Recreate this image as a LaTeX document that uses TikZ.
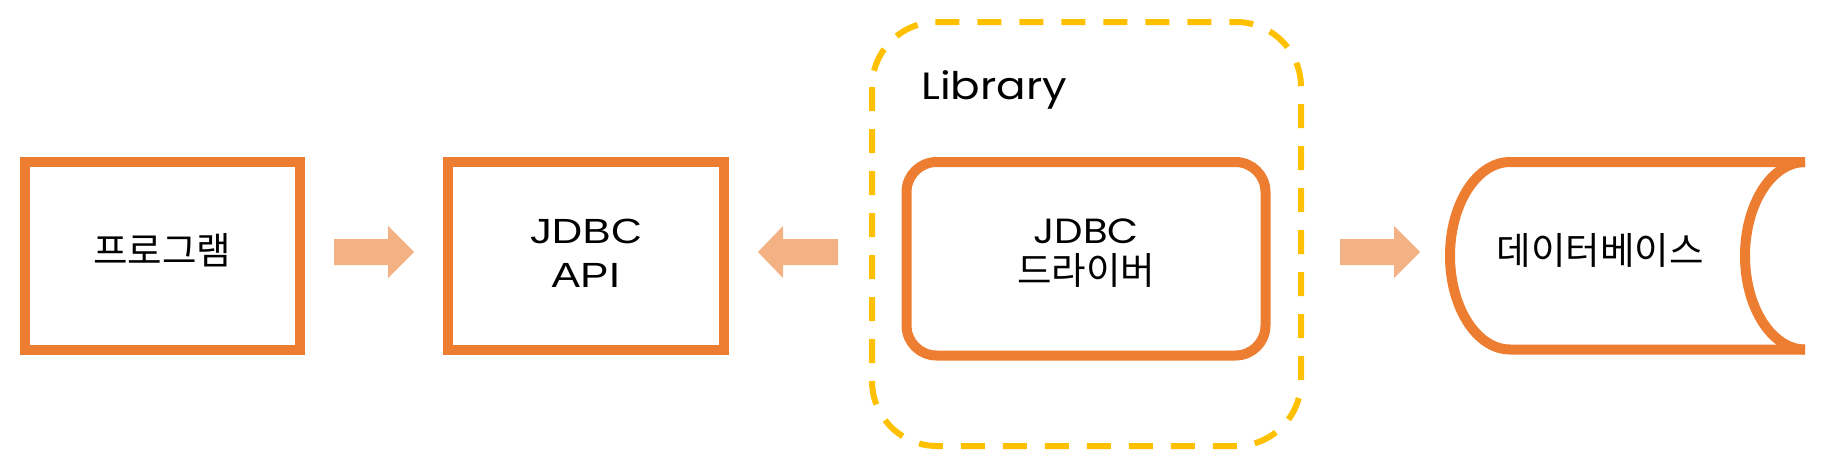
\documentclass[tikz,border=0pt]{standalone}
\usepackage{fontspec}
\newfontfamily\krfont{Noto Sans CJK KR}
\newfontfamily\geofont[FakeStretch=1.15]{Poppins}
\newfontfamily\arfont[FakeStretch=1.22]{Liberation Sans}
\definecolor{boxorange}{HTML}{ED7D31}
\definecolor{arroworange}{HTML}{F4B183}
\definecolor{libyellow}{HTML}{FFC000}
\begin{document}
\begin{tikzpicture}[x=1pt,y=-1pt,
  plainbox/.style={draw=boxorange,line width=10pt,rectangle,inner sep=0pt,fill=white},
  blockarrow/.style={fill=arroworange,draw=none},
  libframe/.style={draw=libyellow,line width=6pt,dash pattern=on 24pt off 18pt,rounded corners=65pt},
  krtext/.style={font=\krfont\fontsize{37.5}{40}\selectfont,anchor=base,inner sep=0pt},
  twoline/.style={align=center,inner sep=0pt,font=\fontsize{35}{41.5}\selectfont},
]
\useasboundingbox (0,0) rectangle (1828,474);
% boxes
\node[plainbox,minimum width=275pt,minimum height=187.5pt] (prog) at (162.5,255.75) {};
\node[krtext] (progt) at (162,264) {프로그램};
\node[plainbox,minimum width=276pt,minimum height=187.5pt] (api) at (586,255.75) {};
\node[twoline,font=\arfont\fontsize{35}{44}\selectfont] (apit) at (586,253) {JDBC\\API};
% library frame
\draw[libframe] (872,22) rectangle (1301,446);
\node[anchor=base west,font=\geofont\fontsize{38}{40}\selectfont,inner sep=0pt] (lib) at (921,99) {Library};
\node[plainbox,rounded corners=30pt,minimum width=359pt,minimum height=193.5pt] (drv) at (1086,258.75) {};
\node[twoline] (drvt) at (1086,253) {{\geofont JDBC}\\{\krfont\fontsize{37.5}{41.5}\selectfont 드라이버}};
% database
\coordinate (dbtr) at (1805,162);
\coordinate (dbbr) at (1805,349.5);
\draw[boxorange,line width=10pt] (dbtr) -- (1510,162) arc[start angle=90,end angle=270,x radius=60,y radius=-93.75] -- (dbbr);
\draw[boxorange,line width=10pt] (dbtr) arc[start angle=90,end angle=270,x radius=60,y radius=-93.75];
\node[krtext] (db) at (1600,264) {데이터베이스};
% arrows
\fill[blockarrow] (334,239) -- (388,239) -- (388,226) -- (414,252) -- (388,278) -- (388,265) -- (334,265) -- cycle;
\fill[blockarrow] (838,239) -- (783,239) -- (783,226) -- (758,252) -- (783,278) -- (783,265) -- (838,265) -- cycle;
\fill[blockarrow] (1340,239) -- (1394,239) -- (1394,226) -- (1420,252) -- (1394,278) -- (1394,265) -- (1340,265) -- cycle;
\end{tikzpicture}
\end{document}
